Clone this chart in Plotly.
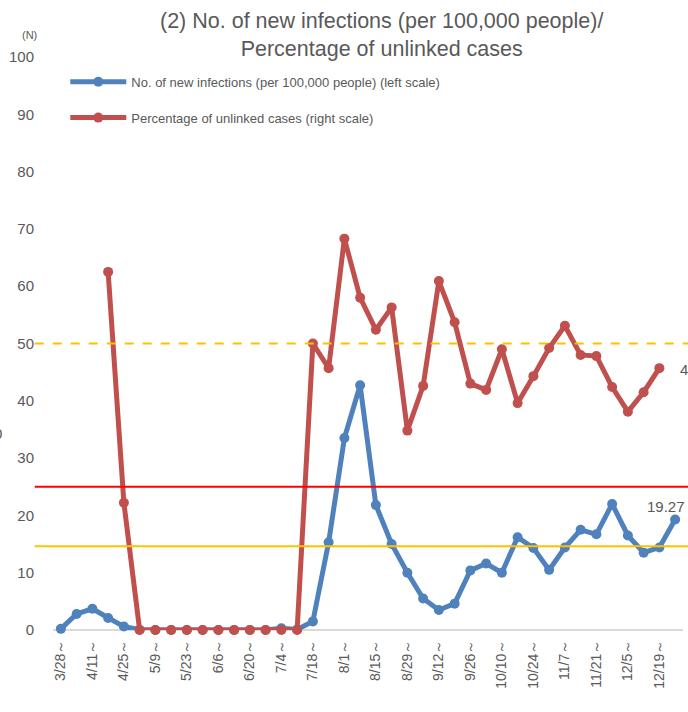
import plotly.graph_objects as go

weeks = ["3/28～", "4/4～", "4/11～", "4/18～", "4/25～", "5/2～", "5/9～", "5/16～", "5/23～", "5/30～",
         "6/6～", "6/13～", "6/20～", "6/27～", "7/4～", "7/11～", "7/18～", "7/25～", "8/1～", "8/8～",
         "8/15～", "8/22～", "8/29～", "9/5～", "9/12～", "9/19～", "9/26～", "10/3～", "10/10～", "10/17～",
         "10/24～", "10/31～", "11/7～", "11/14～", "11/21～", "11/28～", "12/5～", "12/12～", "12/19～", "12/26～"]

new_infections = [0.2, 2.8, 3.7, 2.1, 0.6, 0.05, 0, 0, 0, 0,
                  0, 0, 0, 0, 0.3, 0.1, 1.5, 15.3, 33.5, 42.7,
                  21.8, 15.0, 10.0, 5.5, 3.5, 4.6, 10.4, 11.6, 10.0, 16.2,
                  14.3, 10.5, 14.4, 17.5, 16.7, 22.0, 16.5, 13.5, 14.4, 19.27]

unlinked_pct = [None, None, None, 62.5, 22.2, 0, 0, 0, 0, 0,
                0, 0, 0, 0, 0, 0, 50.0, 45.7, 68.3, 58.0,
                52.4, 56.3, 34.8, 42.6, 60.9, 53.7, 43.0, 41.9, 49.0, 39.6,
                44.3, 49.2, 53.1, 48.0, 47.8, 42.4, 38.1, 41.5, 45.7, None]

tick_labels = weeks[::2]
y_ticks = [0, 10, 20, 30, 40, 50, 60, 70, 80, 90, 100]

thresholds = [50, 25, 14.6]
threshold_colors = ["#FFC000", "#FF0000", "#FFC000"]
threshold_dash = ["dash", "solid", "solid"]

BLUE = "#4F81BD"
RED = "#C0504D"
GRAY = "#595959"
FONT = "Liberation Sans"

fig = go.Figure()
fig.add_trace(go.Scatter(
    x=weeks, y=new_infections, mode="lines+markers",
    name="No. of new infections (per 100,000 people) (left scale)",
    line=dict(color=BLUE, width=5), marker=dict(color=BLUE, size=10),
    legendgroup="a", cliponaxis=False))
fig.add_trace(go.Scatter(
    x=weeks, y=unlinked_pct, mode="lines+markers",
    name="Percentage of unlinked cases (right scale)",
    line=dict(color=RED, width=5), marker=dict(color=RED, size=10),
    legendgroup="b", cliponaxis=False))

for v, c, d in zip(thresholds, threshold_colors, threshold_dash):
    fig.add_shape(type="line", xref="paper", yref="y", x0=-0.029, x1=1.01, y0=v, y1=v,
                  line=dict(color=c, width=2, dash=d))

# data labels
last_blue = new_infections[-1]
fig.add_annotation(x=weeks[-1], y=last_blue, text=f"{last_blue:.2f}", showarrow=False,
                   xanchor="center", yanchor="middle", xshift=-9, yshift=13,
                   font=dict(family=FONT, size=15, color=GRAY))
last_red_idx = max(i for i, v in enumerate(unlinked_pct) if v is not None)
fig.add_annotation(x=weeks[last_red_idx], y=unlinked_pct[last_red_idx], text=f"{unlinked_pct[last_red_idx]:.1f}",
                   showarrow=False, xanchor="left", yanchor="middle", xshift=19, yshift=-1,
                   font=dict(family=FONT, size=15, color=GRAY))

# axis unit label
fig.add_annotation(xref="paper", yref="paper", x=-0.038, y=1.0, yshift=22, text="(N)", showarrow=False,
                   xanchor="center", yanchor="middle", font=dict(family=FONT, size=11, color=GRAY))
# partially visible label at the left edge
fig.add_annotation(xref="paper", yref="paper", x=-0.078, y=0.343, text="0", showarrow=False,
                   xanchor="right", yanchor="middle", font=dict(family=FONT, size=15, color=GRAY))

# title
fig.add_annotation(xref="paper", yref="paper", x=0.522, y=1.0, yshift=-6,
                   text="(2) No. of new infections (per 100,000 people)/<br>Percentage of unlinked cases",
                   showarrow=False, xanchor="center", yanchor="bottom", align="center",
                   font=dict(family=FONT, size=21.5, color=GRAY))

fig.update_layout(
    width=688, height=712,
    margin=dict(l=53, r=5, t=57, b=82),
    paper_bgcolor="white", plot_bgcolor="white",
    font=dict(family=FONT, color=GRAY),
    showlegend=True,
    legend=dict(x=0.0195, y=0.983, xanchor="left", yanchor="top", bgcolor="rgba(0,0,0,0)",
                font=dict(family=FONT, size=13, color=GRAY), tracegroupgap=16, itemwidth=56),
    xaxis=dict(type="category", tickmode="array", tickvals=tick_labels, ticktext=tick_labels,
               tickangle=-90, showgrid=False, zeroline=False, showline=False, ticks="",
               automargin=False, ticklabelstandoff=6,
               tickfont=dict(family=FONT, size=14, color=GRAY), range=[-0.5, len(weeks) - 0.5]),
    yaxis=dict(range=[0, 100], tickvals=y_ticks, showgrid=False, zeroline=True,
               zerolinecolor="#D9D9D9", zerolinewidth=2, showline=False, ticks="",
               automargin=False, ticklabelstandoff=18,
               tickfont=dict(family=FONT, size=15, color=GRAY)),
)

fig.write_html("out.html", config={"displayModeBar": False},
               post_script="document.body.style.margin='0';")
